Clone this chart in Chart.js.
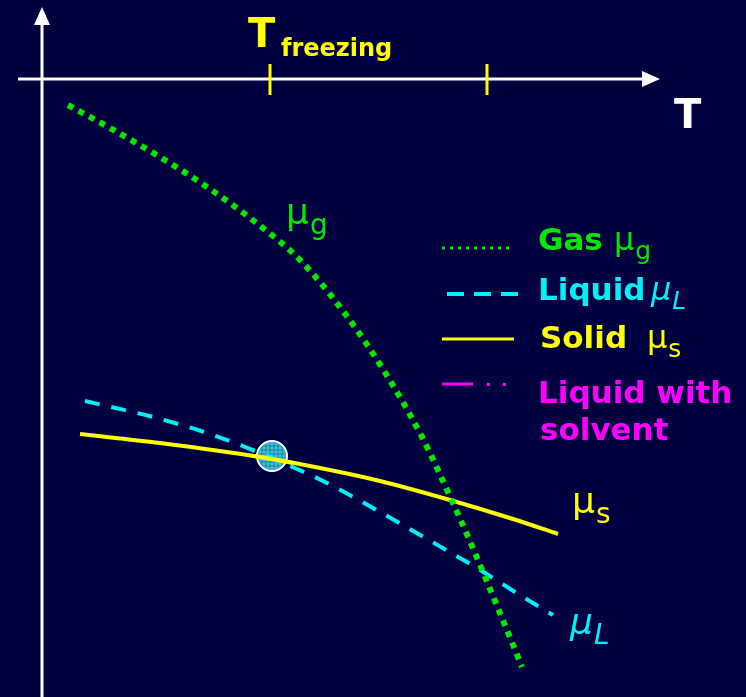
<!DOCTYPE html>
<html>
<head>
<meta charset="utf-8">
<script src="https://cdn.jsdelivr.net/npm/chart.js@4.4.1/dist/chart.umd.min.js"></script>
<style>
  html, body { margin: 0; padding: 0; background: #000040; }
  #wrap { width: 746px; height: 697px; }
</style>
</head>
<body>
<div id="wrap"><canvas id="chart" width="746" height="697"></canvas></div>
<script>
// Data (T along the horizontal, chemical potential mu downwards)
const gasT = [68, 110, 160, 210, 254, 300, 346, 386, 422, 448, 472, 500, 522];
const gasMu = [105, 128, 157, 189, 221, 260, 315, 374, 437, 492, 546, 613, 667];
const liquidT = [85, 153, 207, 260, 327, 380, 427, 477, 523, 553];
const liquidMu = [401, 417, 433, 453, 483, 512, 539, 568, 597, 615];
const solidT = [80, 160, 260, 330, 380, 450, 513, 558];
const solidMu = [434, 443, 457, 470, 481, 500, 519, 534];
const freezeT = [272];
const freezeMu = [456];
const axisTicks = [270, 487];

const GREEN = '#00E800';
const CYAN = '#00F0F8';
const YELLOW = '#FFFF00';
const MAGENTA = '#FF00FF';
const FONT = '"DejaVu Sans", "Liberation Sans", sans-serif';

const toPts = (xs, ys) => xs.map((x, i) => ({ x, y: ys[i] }));

// Axes, labels and legend drawn on the canvas
const decorations = {
    id: 'decorations',
    beforeDatasetsDraw(chart) {
        const { ctx, scales: { x, y } } = chart;
        const ox = x.getPixelForValue(42), oy = y.getPixelForValue(79);
        ctx.save();
        ctx.strokeStyle = '#FFFFFF';
        ctx.fillStyle = '#FFFFFF';
        ctx.lineWidth = 3;
        // vertical axis
        ctx.beginPath();
        ctx.moveTo(ox, y.getPixelForValue(697));
        ctx.lineTo(ox, y.getPixelForValue(22));
        ctx.stroke();
        ctx.beginPath();
        ctx.moveTo(ox, y.getPixelForValue(7));
        ctx.lineTo(ox - 8, y.getPixelForValue(25));
        ctx.lineTo(ox + 8, y.getPixelForValue(25));
        ctx.closePath();
        ctx.fill();
        // horizontal axis
        ctx.beginPath();
        ctx.moveTo(x.getPixelForValue(18), oy);
        ctx.lineTo(x.getPixelForValue(645), oy);
        ctx.stroke();
        ctx.beginPath();
        ctx.moveTo(x.getPixelForValue(660), oy);
        ctx.lineTo(x.getPixelForValue(642), oy - 8);
        ctx.lineTo(x.getPixelForValue(642), oy + 8);
        ctx.closePath();
        ctx.fill();
        // ticks
        ctx.strokeStyle = YELLOW;
        axisTicks.forEach(t => {
            ctx.beginPath();
            ctx.moveTo(x.getPixelForValue(t), oy - 15);
            ctx.lineTo(x.getPixelForValue(t), oy + 16);
            ctx.stroke();
        });
        // axis labels
        ctx.textBaseline = 'alphabetic';
        ctx.fillStyle = '#FFFFFF';
        ctx.font = 'bold 40px ' + FONT;
        ctx.fillText('T', 674, 128);
        ctx.fillStyle = YELLOW;
        ctx.fillText('T', 248, 47);
        ctx.font = 'bold 24px ' + FONT;
        ctx.fillText('freezing', 281, 56);
        ctx.restore();
    },
    afterDatasetsDraw(chart) {
        const { ctx } = chart;
        ctx.save();
        // grid pattern inside the freezing point marker
        const pt = chart.getDatasetMeta(3).data[0];
        if (pt) {
            ctx.save();
            ctx.beginPath();
            ctx.arc(pt.x, pt.y, 14, 0, Math.PI * 2);
            ctx.clip();
            ctx.strokeStyle = 'rgba(120,230,255,0.55)';
            ctx.lineWidth = 1;
            for (let d = -16; d <= 16; d += 4) {
                ctx.beginPath();
                ctx.moveTo(pt.x + d, pt.y - 16); ctx.lineTo(pt.x + d, pt.y + 16);
                ctx.moveTo(pt.x - 16, pt.y + d); ctx.lineTo(pt.x + 16, pt.y + d);
                ctx.stroke();
            }
            ctx.restore();
            // curves drawn over the marker again
            ctx.save();
            ctx.beginPath();
            ctx.rect(pt.x - 20, pt.y - 20, 40, 40);
            ctx.clip();
            [1, 2].forEach(i => chart.getDatasetMeta(i).controller.draw());
            ctx.restore();
        }
        ctx.restore();
        ctx.save();

        const mu = (color, sub, px, py, size, italic) => {
            ctx.fillStyle = color;
            ctx.font = (italic ? 'italic ' : '') + size + 'px ' + FONT;
            ctx.fillText('\u03bc', px, py);
            const w = ctx.measureText('\u03bc').width;
            ctx.font = (italic ? 'italic ' : '') + Math.round(size * 0.78) + 'px ' + FONT;
            ctx.fillText(sub, px + w + 1, py + size * 0.28);
        };

        // curve labels
        mu(GREEN, 'g', 286, 224, 36, false);
        mu(YELLOW, 's', 572, 513, 36, false);
        mu(CYAN, 'L', 570, 634, 36, true);

        // legend samples
        ctx.lineCap = 'butt';
        ctx.strokeStyle = GREEN;
        ctx.lineWidth = 3;
        ctx.setLineDash([3, 5]);
        ctx.beginPath(); ctx.moveTo(442, 248); ctx.lineTo(514, 248); ctx.stroke();
        ctx.strokeStyle = CYAN;
        ctx.lineWidth = 4;
        ctx.setLineDash([17, 10]);
        ctx.beginPath(); ctx.moveTo(447, 294); ctx.lineTo(520, 294); ctx.stroke();
        ctx.setLineDash([]);
        ctx.strokeStyle = YELLOW;
        ctx.lineWidth = 3;
        ctx.beginPath(); ctx.moveTo(442, 339); ctx.lineTo(514, 339); ctx.stroke();
        ctx.strokeStyle = MAGENTA;
        ctx.beginPath(); ctx.moveTo(442, 384); ctx.lineTo(473, 384); ctx.stroke();
        ctx.fillStyle = MAGENTA;
        ctx.fillRect(487, 383, 3, 3);
        ctx.fillRect(503, 383, 3, 3);

        // legend text
        ctx.font = 'bold 31px ' + FONT;
        ctx.fillStyle = GREEN;
        ctx.fillText('Gas', 538, 250);
        mu(GREEN, 'g', 614, 250, 32, false);
        ctx.font = 'bold 31px ' + FONT;
        ctx.fillStyle = CYAN;
        ctx.fillText('Liquid', 538, 300);
        mu(CYAN, 'L', 651, 300, 32, true);
        ctx.font = 'bold 31px ' + FONT;
        ctx.fillStyle = YELLOW;
        ctx.fillText('Solid', 540, 348);
        mu(YELLOW, 's', 647, 348, 32, false);
        ctx.font = 'bold 31px ' + FONT;
        ctx.fillStyle = MAGENTA;
        ctx.fillText('Liquid with', 538, 403);
        ctx.fillText('solvent', 540, 440);
        ctx.restore();
    }
};

new Chart(document.getElementById('chart'), {
    type: 'scatter',
    data: {
        datasets: [
            {
                label: 'Gas',
                data: toPts(gasT, gasMu),
                showLine: true,
                borderColor: GREEN,
                borderWidth: 6,
                borderDash: [6, 6],
                pointRadius: 0,
                cubicInterpolationMode: 'monotone'
            },
            {
                label: 'Liquid',
                data: toPts(liquidT, liquidMu),
                showLine: true,
                borderColor: CYAN,
                borderWidth: 4,
                borderDash: [15, 12],
                pointRadius: 0,
                cubicInterpolationMode: 'monotone'
            },
            {
                label: 'Solid',
                data: toPts(solidT, solidMu),
                showLine: true,
                borderColor: YELLOW,
                borderWidth: 4,
                pointRadius: 0,
                cubicInterpolationMode: 'monotone'
            },
            {
                label: 'Freezing point',
                data: toPts(freezeT, freezeMu),
                showLine: false,
                pointRadius: 15,
                pointBackgroundColor: '#1890B0',
                pointBorderColor: '#FFFFFF',
                pointBorderWidth: 2
            }
        ]
    },
    options: {
        responsive: false,
        animation: false,
        layout: { padding: 0, autoPadding: false },
        scales: {
            x: { type: 'linear', min: 0, max: 746, display: false },
            y: { type: 'linear', min: 0, max: 697, reverse: true, display: false }
        },
        plugins: {
            legend: { display: false },
            tooltip: { enabled: false }
        }
    },
    plugins: [decorations]
});
</script>
</body>
</html>
